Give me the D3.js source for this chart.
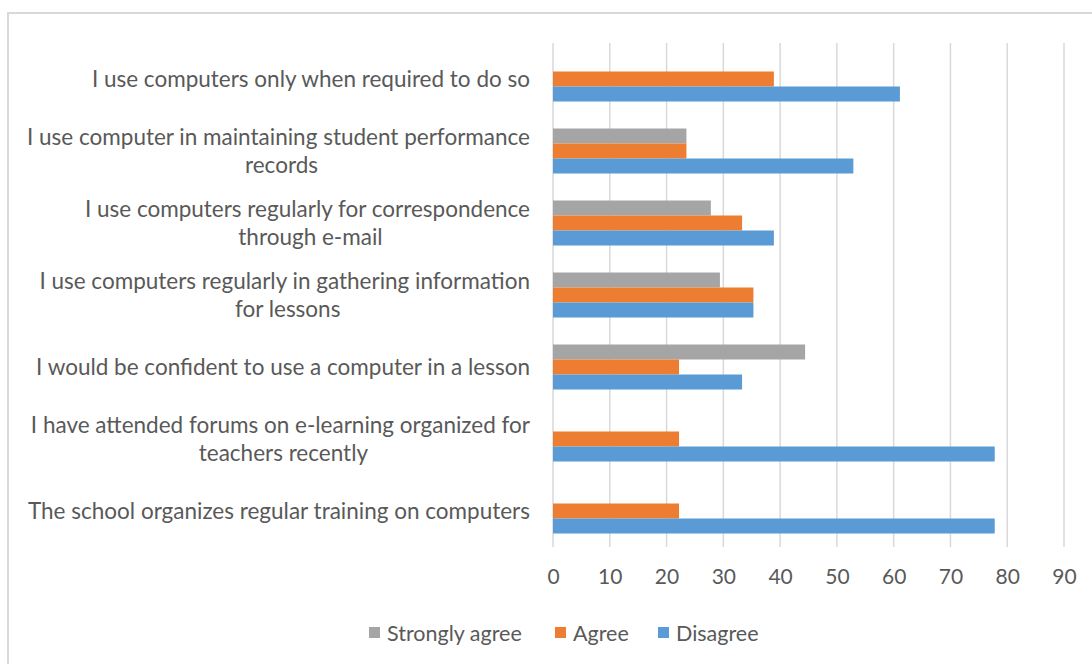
<!DOCTYPE html>
<html>
<head>
<meta charset="utf-8">
<script src="https://cdn.jsdelivr.net/npm/d3@7"></script>
<style>
  body { margin: 0; background: #fff; }
  text { font-family: Lato, "Open Sans", sans-serif; fill: #595959; }
</style>
</head>
<body>
<svg id="chart" width="1092" height="664"></svg>
<script>
// category labels, split into lines as in the picture
let categories = [
    ['I use computers only when required to do so'],
    ['I use computer in maintaining student performance', 'records'],
    ['I use computers regularly for correspondence', 'through e-mail'],
    ['I use computers regularly in gathering information', 'for lessons'],
    ['I would be confident to use a computer in a lesson'],
    ['I have attended forums on e-learning organized for', 'teachers recently'],
    ['The school organizes regular training on computers']
]
let series = ['Strongly agree', 'Agree', 'Disagree']
let colors = ['#a5a5a5', '#ed7d31', '#5b9bd5']

let stronglyAgree = [0, 23.5, 27.8, 29.4, 44.4, 0, 0]
let agree = [38.9, 23.5, 33.3, 35.3, 22.2, 22.2, 22.2]
let disagree = [61.1, 52.9, 38.9, 35.3, 33.3, 77.8, 77.8]
let xTicks = [0, 10, 20, 30, 40, 50, 60, 70, 80, 90]

let values = [stronglyAgree, agree, disagree]
let catKeys = categories.map(function(c) { return c.join(' ') })

let m = {top: 43, left: 553, right: 28, bottom: 117}
let W = 1092, H = 664

let svg = d3.select('#chart')

// outer frame
svg.append('rect')
    .attr('x', 8).attr('y', 13)
    .attr('width', 1100).attr('height', 680)
    .attr('fill', 'none')
    .attr('stroke', '#d9d9d9')
    .attr('stroke-width', 2)

let xScale = d3.scaleLinear().domain([0, 90]).range([m.left, 1064])
let yScale = d3.scaleBand().domain(catKeys)
    .range([m.top, H - m.bottom])
    .paddingInner(0.375)
    .paddingOuter(0.1875)
let subScale = d3.scaleBand().domain(series).range([0, yScale.bandwidth()])

// gridlines
svg.append('g')
    .selectAll('line')
    .data(xTicks)
    .enter().append('line')
        .attr('x1', function(d) { return xScale(d) })
        .attr('x2', function(d) { return xScale(d) })
        .attr('y1', m.top)
        .attr('y2', H - m.bottom)
        .attr('stroke', '#d9d9d9')
        .attr('stroke-width', 1.5)

// x axis labels
let xAxis = d3.axisBottom(xScale).tickValues(xTicks).tickSize(0).tickPadding(22)
let gx = svg.append('g')
    .attr('transform', `translate(0, ${H - m.bottom})`)
    .call(xAxis)
gx.select('.domain').remove()
gx.selectAll('text')
    .style('font-family', 'Lato, "Open Sans", sans-serif')
    .style('font-size', '21px')
    .attr('fill', '#595959')

// bars
series.forEach(function(s, i) {
    svg.append('g')
        .selectAll('rect')
        .data(values[i])
        .enter().append('rect')
            .attr('x', xScale(0))
            .attr('y', function(d, j) { return yScale(catKeys[j]) + subScale(s) })
            .attr('width', function(d) { return xScale(d) - xScale(0) })
            .attr('height', subScale.bandwidth())
            .attr('fill', colors[i])
})

// category labels
let labelX = 530
categories.forEach(function(lines, j) {
    let cy = yScale(catKeys[j]) + yScale.bandwidth() / 2
    let lh = 28
    let t0 = svg.append('text')
        .attr('x', labelX)
        .attr('y', cy - (lines.length - 1) * lh / 2)
        .attr('dy', '0.35em')
        .attr('text-anchor', 'end')
        .style('font-size', '22.5px')
        .text(lines[0])
    if (lines.length > 1) {
        let w = t0.node().getComputedTextLength()
        svg.append('text')
            .attr('x', labelX - w / 2 + 3)
            .attr('y', cy + lh / 2)
            .attr('dy', '0.35em')
            .attr('text-anchor', 'middle')
            .style('font-size', '22.5px')
            .text(lines[1])
    }
})

// legend
let legendX = [369, 555, 658]
let legend = svg.append('g')
series.forEach(function(s, i) {
    legend.append('rect')
        .attr('x', legendX[i]).attr('y', 627)
        .attr('width', 11).attr('height', 11)
        .attr('fill', colors[i])
    legend.append('text')
        .attr('x', legendX[i] + 18).attr('y', 633)
        .attr('dy', '0.35em')
        .style('font-size', '21.5px')
        .text(s)
})
</script>
</body>
</html>
